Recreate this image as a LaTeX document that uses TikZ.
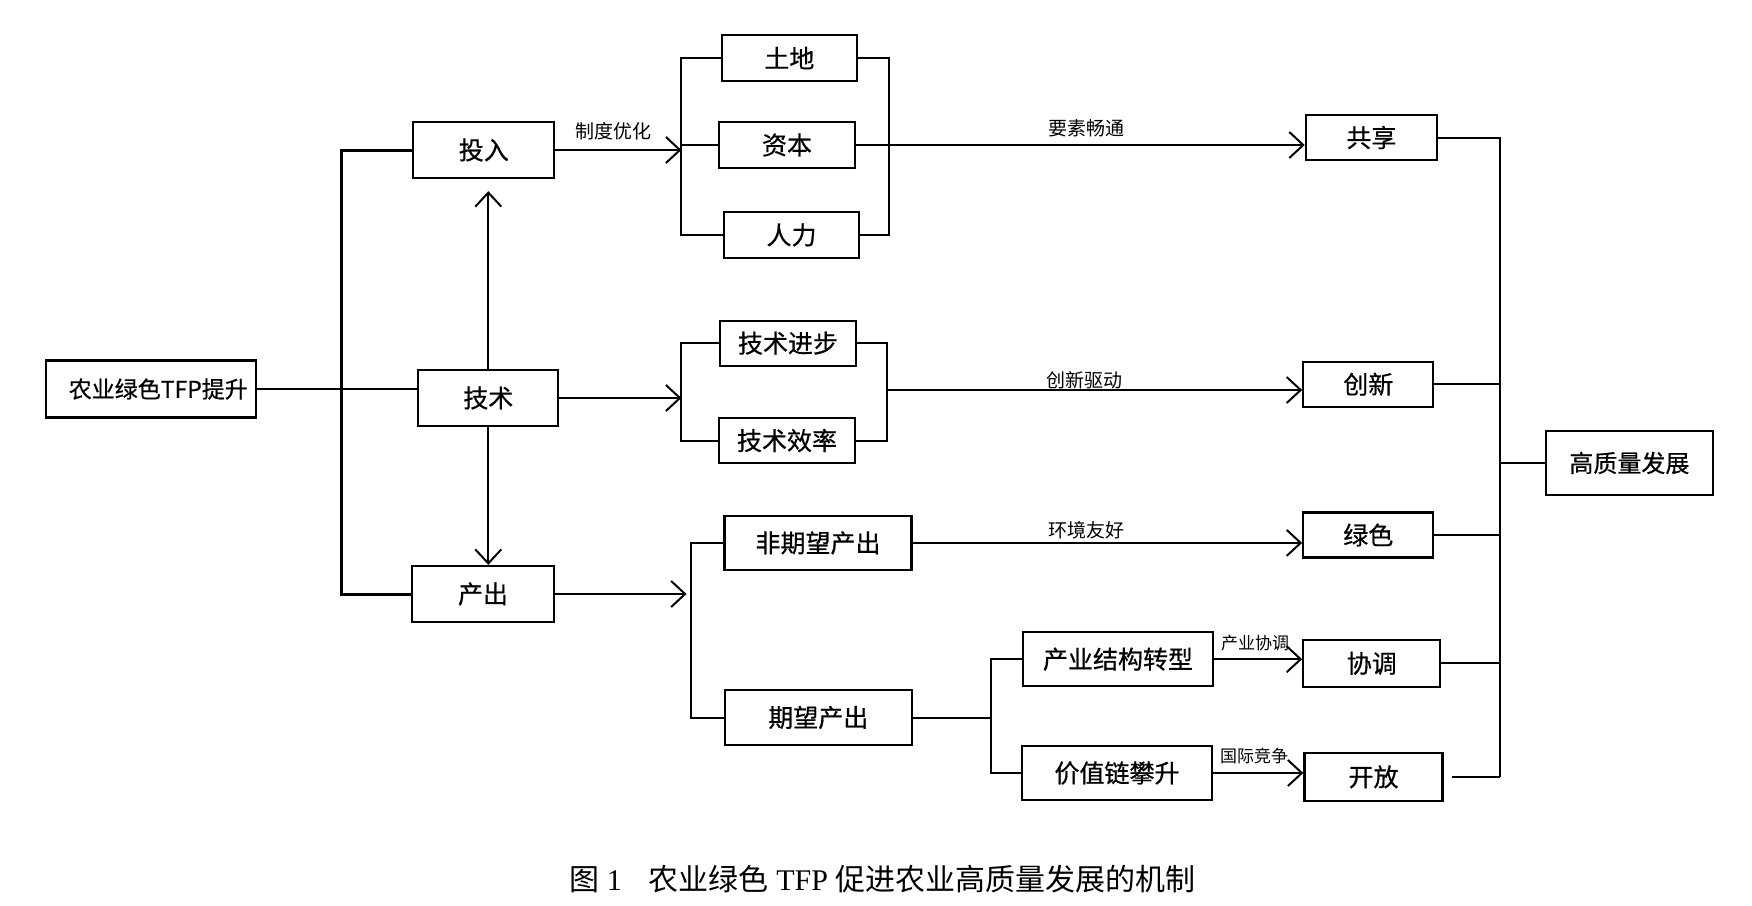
\documentclass[tikz,border=0pt]{standalone}
\usepackage{fontspec}
\setmainfont{Noto Sans CJK SC}
\newfontfamily\boxfont{Noto Sans CJK SC}[FakeBold=0.6]
\newfontfamily\serifl{Liberation Serif}
\usetikzlibrary{arrows.meta}
\begin{document}
\begin{tikzpicture}[x=1pt,y=-1pt,
  box/.style={draw, line width=2.3pt, inner sep=0pt, anchor=center, font=\boxfont\fontsize{25}{25}\selectfont},
  conn/.style={line width=2pt},
  bus/.style={line width=3pt},
  arr/.style={conn, -{Straight Barb[length=14pt,width=26pt]}},
  lbl/.style={inner sep=0pt, font=\fontsize{19}{19}\selectfont}]
\fill[white] (0,0) rectangle (1752,905);
\useasboundingbox (0,0) rectangle (1752,905);
% boxes
\node[box, minimum width=210pt, minimum height=57pt, font=\boxfont\fontsize{23}{23}\selectfont] (tfp) at (151.3,389) {\hspace*{14pt}农业绿色TFP提升};
\node[box, minimum width=141pt, minimum height=56pt] (touru) at (483.8,150) {投入};
\node[box, minimum width=140pt, minimum height=56pt] (jishu) at (488.3,398) {技术};
\node[box, minimum width=142pt, minimum height=56pt] (chanchu) at (483,594) {产出};
\node[box, minimum width=135pt, minimum height=46pt] (tudi) at (789.3,58) {土地};
\node[box, minimum width=136pt, minimum height=46pt] (ziben) at (787,145) {资本};
\node[box, minimum width=135pt, minimum height=46pt] (renli) at (791.5,235) {人力};
\node[box, minimum width=136pt, minimum height=45pt] (jsjb) at (788,343.2) {技术进步};
\node[box, minimum width=136pt, minimum height=45pt] (jsxl) at (787,440.5) {技术效率};
\node[box, minimum width=187pt, minimum height=54pt] (fqw) at (818,542.9) {非期望产出};
\node[box, minimum width=187pt, minimum height=55pt] (qw) at (818.3,717.5) {期望产出};
\node[box, minimum width=190pt, minimum height=54pt] (cyjg) at (1118,659.2) {产业结构转型};
\node[box, minimum width=190pt, minimum height=54pt] (jzl) at (1117,773) {价值链攀升};
\node[box, minimum width=131pt, minimum height=45pt] (gx) at (1371.4,137.5) {共享};
\node[box, minimum width=130pt, minimum height=45pt] (cx) at (1368.3,384.2) {创新};
\node[box, minimum width=130pt, minimum height=45pt] (lv) at (1368.3,535) {绿色};
\node[box, minimum width=137pt, minimum height=47pt] (xt) at (1371.8,663.3) {协调};
\node[box, minimum width=138pt, minimum height=48pt] (kf) at (1373.5,776.9) {开放};
\node[box, minimum width=167pt, minimum height=64pt, font=\boxfont\fontsize{24}{24}\selectfont] (gzl) at (1629.4,463) {高质量发展};
% helper coordinates
\coordinate (bL) at (341.6,0);
\coordinate (b1) at (681.4,0);
\coordinate (b1r) at (888.6,0);
\coordinate (b2) at (681.4,0);
\coordinate (b2r) at (887,0);
\coordinate (b3) at (690.6,0);
\coordinate (b4) at (990.6,0);
\coordinate (bR) at (1499.8,0);
\coordinate (m2) at (887,390);
\coordinate (mR) at (1499.8,463);
% left bus
\draw[bus] (touru.west) -- (touru.west -| bL) -- (chanchu.west -| bL) -- (chanchu.west);
\draw[conn] (tfp.east) -- (tfp.east -| jishu.west);
\draw[arr, shorten >=12pt] (jishu.north) -- (jishu.north |- touru.south);
\draw[arr] (jishu.south) -- (jishu.south |- chanchu.north);
% input group
\draw[arr] (touru.east) -- (touru.east -| b1);
\draw[conn] (tudi.west) -- (tudi.west -| b1) -- (renli.west -| b1) -- (renli.west);
\draw[conn] (ziben.west) -- (ziben.west -| b1);
\draw[conn] (tudi.east) -- (tudi.east -| b1r) -- (renli.east -| b1r) -- (renli.east);
\draw[arr] (ziben.east) -- (ziben.east -| gx.west);
\node[lbl] (l1) at (613,131) {制度优化};
\node[lbl] (l2) at (1086,128) {要素畅通};
% technology group
\draw[arr] (jishu.east) -- (jishu.east -| b2);
\draw[conn] (jsjb.west) -- (jsjb.west -| b2) -- (jsxl.west -| b2) -- (jsxl.west);
\draw[conn] (jsjb.east) -- (jsjb.east -| b2r) -- (jsxl.east -| b2r) -- (jsxl.east);
\draw[arr] (m2) -- (m2 -| cx.west);
\node[lbl] (l3) at (1084,380) {创新驱动};
% output group
\draw[arr, shorten >=4pt] (chanchu.east) -- (chanchu.east -| b3);
\draw[conn] (fqw.west) -- (fqw.west -| b3) -- (qw.west -| b3) -- (qw.west);
\draw[arr] (fqw.east) -- (fqw.east -| lv.west);
\node[lbl] (l4) at (1086,530) {环境友好};
\draw[conn] (qw.east) -- (qw.east -| b4);
\draw[conn] (cyjg.west) -- (cyjg.west -| b4) -- (jzl.west -| b4) -- (jzl.west);
\draw[arr] (cyjg.east) -- (cyjg.east -| xt.west);
\draw[arr] (jzl.east) -- (jzl.east -| kf.west);
\node[lbl, font=\fontsize{17}{17}\selectfont] (l5) at (1255,643) {产业协调};
\node[lbl, font=\fontsize{17}{17}\selectfont] (l6) at (1254,756) {国际竞争};
% right bus
\draw[conn] (gx.east) -- (gx.east -| bR) -- (kf.east -| bR);
\draw[conn] (cx.east) -- (cx.east -| bR);
\draw[conn] (lv.east) -- (lv.east -| bR);
\draw[conn] (xt.east) -- (xt.east -| bR);
\draw[conn, shorten <=8pt] (kf.east) -- (kf.east -| bR);
\draw[conn] (mR) -- (gzl.west);
% caption
\node[inner sep=0pt, font=\fontsize{30}{30}\selectfont] (cap) at (882.5,879) {图{\serifl\ 1}\hspace{0.9em}农业绿色{\serifl\ TFP }促进农业高质量发展的机制};
\end{tikzpicture}
\end{document}
